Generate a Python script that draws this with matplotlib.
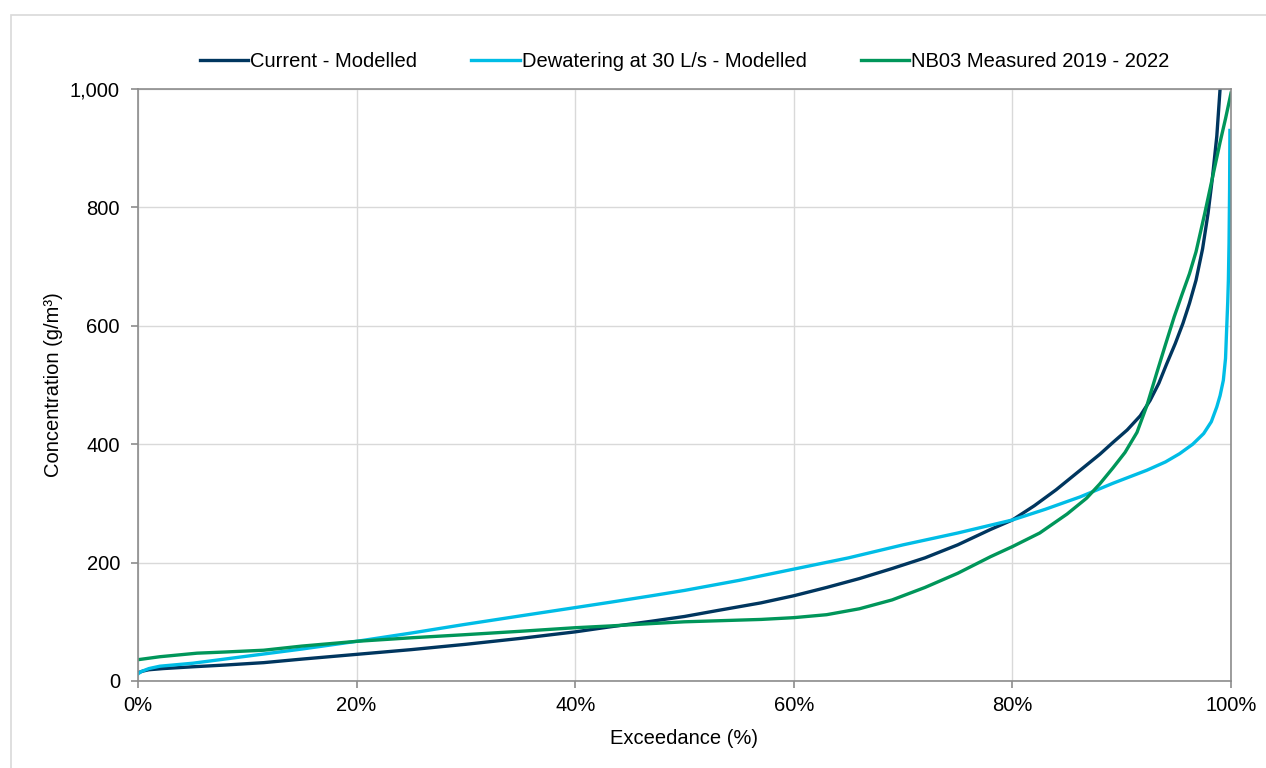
import matplotlib.pyplot as plt
import numpy as np
from matplotlib.patches import Rectangle
from matplotlib.ticker import FuncFormatter

plt.rcParams['font.family'] = ['Liberation Sans', 'DejaVu Sans']

# Exceedance (%) and concentration (g/m3)
x_actual = [0, 0.5, 1, 2.3, 5, 8, 11.5, 15, 20, 25, 30, 35, 40, 43, 47, 50, 53, 57, 60, 63,
            66, 69, 72, 75, 78, 80, 82, 84, 86.2, 88, 89.2, 90.5, 91.7, 92.6, 93.4, 94.1,
            94.9, 95.6, 96.2, 96.8, 97.4, 97.9, 98.3, 98.7, 99.0]
y_actual = [14, 17, 19, 21, 24, 27, 31, 37, 45, 53, 62, 72, 83, 91, 101, 109, 119, 132, 144, 158,
            173, 190, 208, 230, 256, 272, 296, 323, 356, 383, 403, 424, 448, 474, 503, 535,
            570, 604, 638, 677, 730, 790, 850, 920, 1000]

x_dewater = [0, 0.3, 1, 2, 5, 10, 15, 20, 25, 29.7, 35, 40, 43.2, 47, 50, 55, 60, 65, 70, 75,
             80, 83, 86.2, 89.2, 92.3, 94, 95.3, 96.5, 97.5, 98.2, 98.7, 99.0, 99.3, 99.5,
             99.6, 99.7, 99.76, 99.82, 99.87, 99.9]
y_dewater = [12, 16, 21, 25, 30, 42, 54, 67, 81, 95, 110, 124, 133, 144, 153, 170, 189, 208, 230, 250,
             272, 290, 311, 334, 356, 370, 384, 400, 418, 438, 463, 482, 508, 545,
             593, 640, 677, 740, 830, 930]

x_nb03 = [0, 2, 5.4, 8, 11.5, 15, 20, 25, 29.7, 35, 40, 43.2, 47, 50, 53.5, 57, 60, 63, 66,
          69, 72, 75, 78, 80, 82.5, 85, 86.8, 88, 89.2, 90.3, 91.4, 92.3, 93.2, 94,
          94.8, 95.5, 96.2, 96.8, 97.6, 98.3, 99, 99.5, 100]
y_nb03 = [36, 41, 47, 49, 52, 59, 67, 73, 78, 84, 90, 93, 97, 100, 102, 104, 107, 112, 122,
          137, 158, 182, 210, 227, 250, 282, 309, 333, 360, 386, 420, 465, 520, 568,
          615, 652, 688, 725, 790, 850, 910, 950, 993]

labels = ['Current - Modelled', 'Dewatering at 30 L/s - Modelled', 'NB03 Measured 2019 - 2022']
colors = ['#00365F', '#00BDE6', '#00965A']

fig = plt.figure(figsize=(12.66, 7.68), dpi=100)
ax = fig.add_axes([138 / 1266, 87 / 768, 1093 / 1266, 592 / 768])

# thin light frame round the chart area
fig.patches.append(Rectangle((11 / 1266, -0.1), 1.2, (768 - 15) / 768 + 0.1,
                             transform=fig.transFigure, fill=False,
                             edgecolor='#d9d9d9', linewidth=1.2))

ax.plot(x_actual, y_actual, color=colors[0], lw=2.4, label=labels[0])
ax.plot(x_dewater, y_dewater, color=colors[1], lw=2.4, label=labels[1])
ax.plot(x_nb03, y_nb03, color=colors[2], lw=2.4, label=labels[2])

ax.set_xlim(0, 100)
ax.set_ylim(0, 1000)
ax.set_xticks(np.arange(0, 101, 20))
ax.set_yticks(np.arange(0, 1001, 200))
ax.xaxis.set_major_formatter(FuncFormatter(lambda v, p: f'{v:.0f}%'))
ax.yaxis.set_major_formatter(FuncFormatter(lambda v, p: f'{v:,.0f}'))
ax.grid(True, color='#d9d9d9', lw=1)
ax.set_axisbelow(True)
for s in ax.spines.values():
    s.set_color('#8c8c8c')
    s.set_linewidth(1.2)
ax.tick_params(colors='#8c8c8c', labelcolor='black', labelsize=14.5, length=5, width=1.2)
ax.tick_params(axis='x', pad=6)
ax.tick_params(axis='y', pad=8)

ax.set_xlabel('Exceedance (%)', fontsize=14.5, labelpad=10)
ax.set_ylabel('Concentration (g/m³)', fontsize=14.5, labelpad=5)

ax.legend(loc='lower center', bbox_to_anchor=(0.5, 1.0), ncol=3, frameon=False,
          fontsize=14.5, handlelength=2.4, handletextpad=0.1, columnspacing=2.7,
          borderaxespad=0.5)

fig.savefig('out.png', dpi=100)
